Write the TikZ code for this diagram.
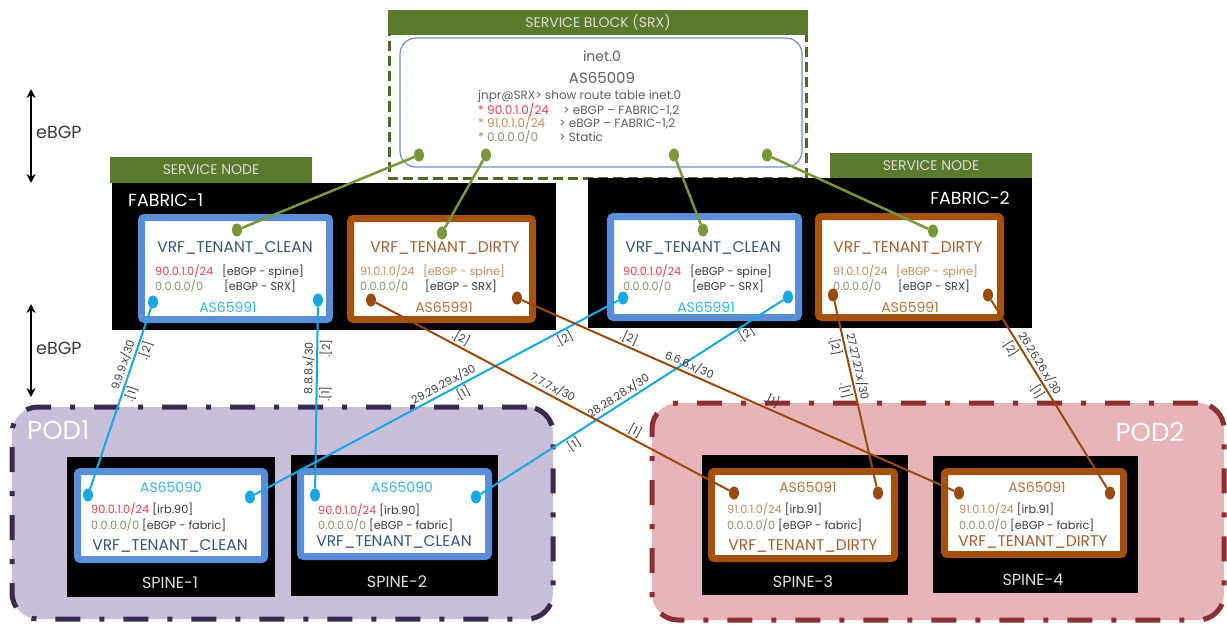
\documentclass[tikz,border=0pt]{standalone}
\usepackage{fontspec}
\setmainfont{Poppins}
\usetikzlibrary{fit,shapes.geometric,arrows.meta}

\definecolor{hdrgreen}{HTML}{5C7A2C}
\definecolor{hdrtext}{HTML}{DCDCDC}
\definecolor{srxdash}{HTML}{4E6A22}
\definecolor{srxblue}{HTML}{6D8FCB}
\definecolor{greenln}{HTML}{78963A}
\definecolor{cleanblue}{HTML}{5B8ED8}
\definecolor{dirtybrown}{HTML}{A6520F}
\definecolor{cyanln}{HTML}{17A8E3}
\definecolor{brownln}{HTML}{9A4A0C}
\definecolor{vrfblue}{HTML}{34557F}
\definecolor{vrfbrown}{HTML}{A65E2E}
\definecolor{ascyan}{HTML}{35B6E4}
\definecolor{asbrown}{HTML}{B8733C}
\definecolor{redtxt}{HTML}{E8414F}
\definecolor{ltbrown}{HTML}{C98A5A}
\definecolor{olivetxt}{HTML}{8E8E6E}
\definecolor{darktxt}{HTML}{3A3A3A}
\definecolor{graytxt}{HTML}{5E5E5E}
\definecolor{podAfill}{HTML}{C9BFDB}
\definecolor{podAline}{HTML}{3A2A4E}
\definecolor{podBfill}{HTML}{E7B5B9}
\definecolor{podBline}{HTML}{8C2F33}

\tikzset{
  panel/.style={inner sep=0pt, fill=black, draw=none},
  greenbar/.style={inner sep=0pt, fill=hdrgreen, draw=none},
  bartext/.style={inner sep=0pt, text=hdrtext, font=\fontsize{14}{16}\selectfont},
  cleanbox/.style={inner sep=0pt, draw=cleanblue, line width=7pt, fill=white, rounded corners=3pt},
  dirtybox/.style={inner sep=0pt, draw=dirtybrown, line width=7pt, fill=white, rounded corners=3pt},
  podA/.style={inner sep=0pt, fill=podAfill, draw=podAline, line width=5pt, rounded corners=26pt,
    dash pattern=on 25pt off 19pt on 5pt off 19pt},
  podB/.style={inner sep=0pt, fill=podBfill, draw=podBline, line width=5pt, rounded corners=26pt,
    dash pattern=on 25pt off 19pt on 5pt off 19pt},
  podname/.style={inner sep=0pt, text=white, font=\fontsize{26}{28}\selectfont},
  fabname/.style={inner sep=0pt, text=white, font=\fontsize{17.5}{19}\selectfont},
  spinename/.style={inner sep=0pt, text=white!88!black, font=\fontsize{16}{18}\selectfont},
  vrfc/.style={inner sep=0pt, text=vrfblue, font=\fontsize{15.5}{17}\selectfont},
  vrfd/.style={inner sep=0pt, text=vrfbrown, font=\fontsize{15.5}{17}\selectfont},
  asc/.style={inner sep=0pt, text=ascyan, font=\fontsize{14}{16}\selectfont},
  asd/.style={inner sep=0pt, text=asbrown, font=\fontsize{14}{16}\selectfont},
  route/.style={inner sep=0pt, anchor=west, text=darktxt, font=\fontsize{11.3}{13}\selectfont},
  srxrow/.style={inner sep=0pt, anchor=west, text=graytxt, font=\fontsize{12}{14}\selectfont},
  srxtxt/.style={inner sep=0pt, text=graytxt, font=\fontsize{14}{16}\selectfont},
  dotc/.style={ellipse, inner sep=0pt, minimum width=10pt, minimum height=13pt, fill=cyanln},
  dotb/.style={ellipse, inner sep=0pt, minimum width=10pt, minimum height=13pt, fill=brownln},
  dotg/.style={ellipse, inner sep=0pt, minimum width=10pt, minimum height=13pt, fill=greenln},
  linkc/.style={draw=cyanln, line width=2pt},
  linkb/.style={draw=brownln, line width=2pt},
  linkg/.style={draw=greenln, line width=2.5pt},
  addr/.style={sloped, inner sep=1.5pt, text=darktxt, font=\fontsize{11}{12}\selectfont},
  bgparrow/.style={line width=2.5pt, {Stealth[length=9pt,width=9pt]}-{Stealth[length=9pt,width=9pt]}},
  bgptext/.style={inner sep=0pt, anchor=west, text=darktxt, font=\fontsize{17.5}{19}\selectfont}
}

\begin{document}
\begin{tikzpicture}[x=1pt,y=-1pt]
\useasboundingbox (0,0) rectangle (1227,626);
\fill[white] (0,0) rectangle (1227,626);

% ---------- pods ----------
\node[podA, fit={(12,407) (553,619)}] (pod1) {};
\node[podname, anchor=west] (pod1name) at (27,430) {POD1};
\node[podB, fit={(652,403) (1224,620)}] (pod2) {};
\node[podname] (pod2name) at (1150,432) {POD2};

% ---------- service block ----------
\draw[srxdash, line width=3pt, dash pattern=on 10pt off 5pt] (389.5,11.5) rectangle (806.5,178.5);
\node[greenbar, fit={(388,10) (808,35)}] (srxbar) {};
\node[bartext] (srxbartext) at (598,22.5) {SERVICE BLOCK (SRX)};
\node[inner sep=0pt, draw=srxblue, line width=1.2pt, fill=white, rounded corners=16pt,
      fit={(400,38) (802,167)}] (srx) {};
\node[srxtxt] (srxtab) at (602,56) {inet.0};
\node[srxtxt, font=\fontsize{15}{17}\selectfont] (srxas) at (602,78) {AS65009};
\node[srxrow] (srxl0) at (478,96) {jnpr@SRX> show route table inet.0};
\node[srxrow] (srxl1) at (478,109.5) {\makebox[85pt][l]{\color{redtxt}* 90.0.1.0/24}> eBGP – FABRIC-1,2};
\node[srxrow] (srxl2) at (478,123) {\makebox[81pt][l]{\color{ltbrown}* 91.0.1.0/24}> eBGP – FABRIC-1,2};
\node[srxrow] (srxl3) at (478,136.5) {\makebox[81pt][l]{\color{olivetxt}* 0.0.0.0/0}> Static};
\node[dotg] (sg1) at (419,155) {};
\node[dotg] (sg2) at (486,155) {};
\node[dotg] (sg3) at (674,155) {};
\node[dotg] (sg4) at (767,155) {};

% ---------- left eBGP markers ----------
\coordinate (ar1t) at (31,89);
\coordinate (ar1b) at (31,183);
\coordinate (ar2t) at (31,304);
\coordinate (ar2b) at (31,397);
\draw[bgparrow] (ar1t) -- (ar1b);
\draw[bgparrow] (ar2t) -- (ar2b);
\node[bgptext] (bgp1) at (36,132) {eBGP};
\node[bgptext] (bgp2) at (36,348) {eBGP};

% ---------- FABRIC-1 ----------
\node[greenbar, fit={(110,157) (312,183)}] (sn1) {};
\node[bartext] (sn1text) at (211,170) {SERVICE NODE};
\node[panel, fit={(112,183) (556,330)}] (fab1) {};
\node[fabname, anchor=west] (fab1name) at (128,200) {FABRIC-1};
\node[cleanbox, fit={(141.5,217.5) (329.5,319.5)}] (c1box) {};
\node[dirtybox, fit={(350.5,218.5) (532.5,319.5)}] (d1box) {};
\node[vrfc] (c1name) at (235,248) {VRF\_TENANT\_CLEAN};
\node[route] (c1r1) at (155,272) {\makebox[67pt][l]{\color{redtxt}90.0.1.0/24}[eBGP - spine]};
\node[route] (c1r2) at (155,286) {\makebox[69pt][l]{\color{olivetxt}0.0.0.0/0}[eBGP - SRX]};
\node[asc] (c1as) at (228,307) {AS65991};
\node[vrfd] (d1name) at (445,248) {VRF\_TENANT\_DIRTY};
\node[route] (d1r1) at (360,272) {\color{ltbrown}\makebox[63pt][l]{91.0.1.0/24}[eBGP - spine]};
\node[route] (d1r2) at (360,286) {\makebox[65pt][l]{\color{olivetxt}0.0.0.0/0}[eBGP - SRX]};
\node[asd] (d1as) at (444,307) {AS65991};
\node[dotg] (c1g) at (237,230) {};
\node[dotg] (d1g) at (442,233) {};
\node[dotc] (c1l) at (153,302) {};
\node[dotc] (c1r) at (318,300) {};
\node[dotb] (d1l) at (371,300) {};
\node[dotb] (d1r) at (517,298) {};

% ---------- FABRIC-2 ----------
\node[greenbar, fit={(830,153) (1032,178)}] (sn2) {};
\node[bartext] (sn2text) at (931,166) {SERVICE NODE};
\node[panel, fit={(588,178) (1032,328)}] (fab2) {};
\node[fabname, anchor=east] (fab2name) at (1010,198) {FABRIC-2};
\node[cleanbox, fit={(610.5,216.5) (798.5,317.5)}] (c2box) {};
\node[dirtybox, fit={(818.5,216.5) (1000.5,317.5)}] (d2box) {};
\node[vrfc] (c2name) at (703,248) {VRF\_TENANT\_CLEAN};
\node[route] (c2r1) at (623,272) {\makebox[67pt][l]{\color{redtxt}90.0.1.0/24}[eBGP - spine]};
\node[route] (c2r2) at (623,286) {\makebox[69pt][l]{\color{olivetxt}0.0.0.0/0}[eBGP - SRX]};
\node[asc] (c2as) at (706,307) {AS65991};
\node[vrfd] (d2name) at (908,248) {VRF\_TENANT\_DIRTY};
\node[route] (d2r1) at (833,272) {\color{ltbrown}\makebox[63pt][l]{91.0.1.0/24}[eBGP - spine]};
\node[route] (d2r2) at (833,286) {\makebox[65pt][l]{\color{olivetxt}0.0.0.0/0}[eBGP - SRX]};
\node[asd] (d2as) at (910,307) {AS65991};
\node[dotg] (c2g) at (703,230) {};
\node[dotg] (d2g) at (933,231) {};
\node[dotc] (c2l) at (623,298) {};
\node[dotc] (c2r) at (788,297) {};
\node[dotb] (d2l) at (833,295) {};
\node[dotb] (d2r) at (988,295) {};

% ---------- spines ----------
\node[panel, fit={(67,457) (275,597)}] (sp1) {};
\node[cleanbox, fit={(77.5,471.5) (264.5,559.5)}] (sp1box) {};
\node[asc] (sp1as) at (171,487) {AS65090};
\node[route] (sp1r1) at (91,509) {{\color{redtxt}90.0.1.0/24} [irb.90]};
\node[route] (sp1r2) at (91,525) {{\color{olivetxt}0.0.0.0/0} [eBGP - fabric]};
\node[vrfc] (sp1vrf) at (170,546) {VRF\_TENANT\_CLEAN};
\node[spinename] (sp1name) at (170,583) {SPINE-1};
\node[dotc] (s1l) at (88,495) {};
\node[dotc] (s1r) at (250,497) {};

\node[panel, fit={(291,455) (498,596)}] (sp2) {};
\node[cleanbox, fit={(300.5,471.5) (488.5,556.5)}] (sp2box) {};
\node[asc] (sp2as) at (402,487) {AS65090};
\node[route] (sp2r1) at (318,510) {{\color{redtxt}90.0.1.0/24} [irb.90]};
\node[route] (sp2r2) at (318,525) {{\color{olivetxt}0.0.0.0/0} [eBGP - fabric]};
\node[vrfc] (sp2vrf) at (394,542) {VRF\_TENANT\_CLEAN};
\node[spinename] (sp2name) at (397,582) {SPINE-2};
\node[dotc] (s2l) at (315,495) {};
\node[dotc] (s2r) at (476,497) {};

\node[panel, fit={(702,455) (908,595)}] (sp3) {};
\node[dirtybox, fit={(711.5,471.5) (894.5,558.5)}] (sp3box) {};
\node[asd] (sp3as) at (808,487) {AS65091};
\node[route] (sp3r1) at (727,509) {{\color{ltbrown}91.0.1.0/24} [irb.91]};
\node[route] (sp3r2) at (727,525) {{\color{olivetxt}0.0.0.0/0} [eBGP - fabric]};
\node[vrfd] (sp3vrf) at (803,546) {VRF\_TENANT\_DIRTY};
\node[spinename] (sp3name) at (803,582) {SPINE-3};
\node[dotb] (s3l) at (734,493) {};
\node[dotb] (s3r) at (878,493) {};

\node[panel, fit={(933,456) (1138,593)}] (sp4) {};
\node[dirtybox, fit={(944.5,471.5) (1123.5,554.5)}] (sp4box) {};
\node[asd] (sp4as) at (1037,487) {AS65091};
\node[route] (sp4r1) at (959,509) {{\color{ltbrown}91.0.1.0/24} [irb.91]};
\node[route] (sp4r2) at (959,525) {{\color{olivetxt}0.0.0.0/0} [eBGP - fabric]};
\node[vrfd] (sp4vrf) at (1033,542) {VRF\_TENANT\_DIRTY};
\node[spinename] (sp4name) at (1033,580) {SPINE-4};
\node[dotb] (s4l) at (959,493) {};
\node[dotb] (s4r) at (1110,493) {};

% ---------- SRX uplinks ----------
\draw[linkg] (sg1) -- (c1g);
\draw[linkg] (sg2) -- (d1g);
\draw[linkg] (sg3) -- (c2g);
\draw[linkg] (sg4) -- (d2g);

% ---------- fabric to spine point-to-point links ----------
\draw[linkc] (c1l) -- node[addr, pos=0.33, above] {9.9.9.x/30}
  node[addr, pos=0.22, below] {.[2]} node[addr, pos=0.46, below] {.[1]} (s1l);
\draw[linkc] (c1r) -- node[addr, pos=0.34, above] {8.8.8.x/30}
  node[addr, pos=0.23, below] {.[2]} node[addr, pos=0.48, below] {.[1]} (s2l);
\draw[linkc] (c2l) -- node[addr, pos=0.47, above] {29.29.29.x/30}
  node[addr, pos=0.16, below] {.[2]} node[addr, pos=0.44, below] {.[1]} (s1r);
\draw[linkc] (c2r) -- node[addr, pos=0.53, above] {28.28.28.x/30}
  node[addr, pos=0.14, below] {.[2]} node[addr, pos=0.71, below] {.[1]} (s2r);
\draw[linkb] (d1l) -- node[addr, pos=0.49, above] {7.7.7.x/30}
  node[addr, pos=0.23, above] {.[2]} node[addr, pos=0.72, above] {.[1]} (s3l);
\draw[linkb] (d1r) -- node[addr, pos=0.38, above] {6.6.6.x/30}
  node[addr, pos=0.24, above] {.[2]} node[addr, pos=0.57, above] {.[1]} (s4l);
\draw[linkb] (d2l) -- node[addr, pos=0.36, above] {27.27.27.x/30}
  node[addr, pos=0.23, below] {.[2]} node[addr, pos=0.47, below] {.[1]} (s3r);
\draw[linkb] (d2r) -- node[addr, pos=0.36, above] {26.26.26.x/30}
  node[addr, pos=0.23, below] {.[2]} node[addr, pos=0.46, below] {.[1]} (s4r);
\end{tikzpicture}
\end{document}
